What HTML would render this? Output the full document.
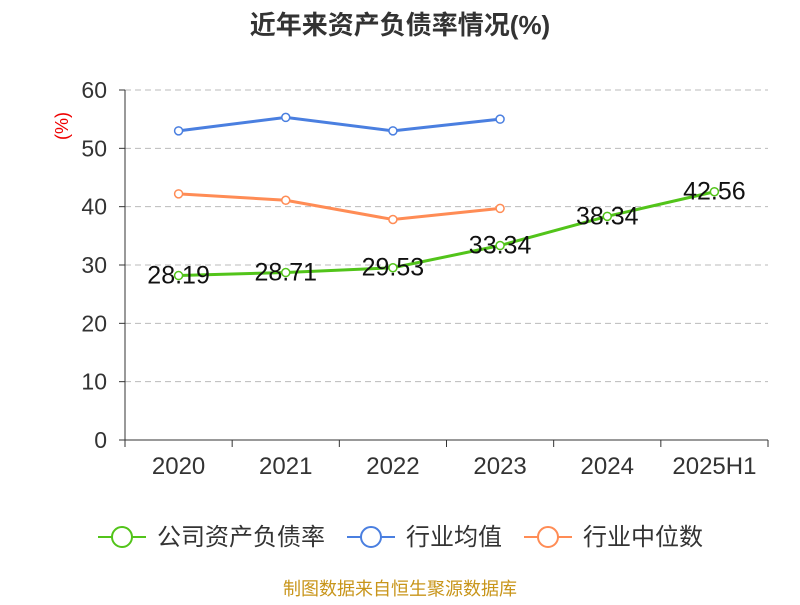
<!DOCTYPE html>
<html><head><meta charset="utf-8"><style>
body{margin:0;background:#fff;}
svg text{font-family:"Liberation Sans","Noto Sans CJK SC",sans-serif;}
</style></head><body>
<svg width="800" height="600" viewBox="0 0 800 600" xmlns="http://www.w3.org/2000/svg">
<text x="400" y="34" text-anchor="middle" font-size="26" font-weight="bold" fill="#333">近年来资产负债率情况(%)</text>
<text transform="translate(68,126) rotate(-90)" text-anchor="middle" font-size="18" fill="#e00">(%)</text>
<g id="grid"></g><g id="axes"></g><g id="series"></g>
<g>
 <g><line x1="98" y1="537" x2="146" y2="537" stroke="#52c41a" stroke-width="2"/><circle cx="122" cy="537" r="10" fill="#fff" stroke="#52c41a" stroke-width="2"/><text x="157" y="545" font-size="24" fill="#333">公司资产负债率</text></g>
 <g><line x1="347" y1="537" x2="395" y2="537" stroke="#4a7fe0" stroke-width="2"/><circle cx="371" cy="537" r="10" fill="#fff" stroke="#4a7fe0" stroke-width="2"/><text x="406" y="545" font-size="24" fill="#333">行业均值</text></g>
 <g><line x1="524" y1="537" x2="572" y2="537" stroke="#ff8c55" stroke-width="2"/><circle cx="548" cy="537" r="10" fill="#fff" stroke="#ff8c55" stroke-width="2"/><text x="583" y="545" font-size="24" fill="#333">行业中位数</text></g>
</g>
<text x="400" y="595" text-anchor="middle" font-size="18" fill="#c8951a">制图数据来自恒生聚源数据库</text>
</svg>
<script>
const categories=["2020","2021","2022","2023","2024","2025H1"];
const companyValues=[28.19,28.71,29.53,33.34,38.34,42.56];
const industryAvg=[53.0,55.3,53.0,55.0];
const industryMedian=[42.2,41.1,37.8,39.7];
const yTicks=[0,10,20,30,40,50,60];
const NS="http://www.w3.org/2000/svg";
const L=125,R=768,T=90,B=440,yMax=60;
const bw=(R-L)/categories.length;
const xs=i=>L+bw*(i+0.5);
const ys=v=>B-(v/yMax)*(B-T);
function mk(tag,attrs,parent){const e=document.createElementNS(NS,tag);for(const k in attrs)e.setAttribute(k,attrs[k]);parent.appendChild(e);return e;}
const grid=document.getElementById('grid'),axes=document.getElementById('axes'),series=document.getElementById('series');
yTicks.forEach(t=>{
 if(t>0){const g=mk('line',{x1:L,x2:R,y1:ys(t),y2:ys(t),stroke:'#bbb','stroke-dasharray':'6,4'},grid);
 
 }
 const tk=mk('line',{x1:L-6,x2:L,y1:ys(t),y2:ys(t),stroke:'#333'},axes);
 
 
 const tx=mk('text',{x:107,y:ys(t)+8,'text-anchor':'end','font-size':23,fill:'#333'},axes);tx.textContent=t;
 
 
});
const ya=mk('line',{x1:L,x2:L,y1:T,y2:B,stroke:'#333'},axes);


const xa=mk('line',{x1:L,x2:R,y1:B,y2:B,stroke:'#333'},axes);


for(let i=0;i<=categories.length;i++){const t=mk('line',{x1:L+bw*i,x2:L+bw*i,y1:B,y2:B+7,stroke:'#333'},axes);
 
 }
categories.forEach((c,i)=>{const t=mk('text',{x:xs(i),y:B+34,'text-anchor':'middle','font-size':24,fill:'#333'},axes);t.textContent=c;
 
 });
function drawSeries(vals,color,name,labels){
 const p=mk('polyline',{points:vals.map((v,i)=>xs(i)+','+ys(v)).join(' '),fill:'none',stroke:color,'stroke-width':3},series);
 
 
 vals.forEach((v,i)=>{const c=mk('circle',{cx:xs(i),cy:ys(v),r:4,fill:'#fff',stroke:color,'stroke-width':1.5},series);
  
  
  if(labels){const t=mk('text',{x:xs(i),y:ys(v)+8,'text-anchor':'middle','font-size':25,fill:'#111'},series);t.textContent=v.toFixed(2);
  
  }
 });
}
drawSeries(industryAvg,'#4a7fe0','industry-avg',false);
drawSeries(industryMedian,'#ff8c55','industry-median',false);
drawSeries(companyValues,'#52c41a','company',true);
</script>
</body></html>
